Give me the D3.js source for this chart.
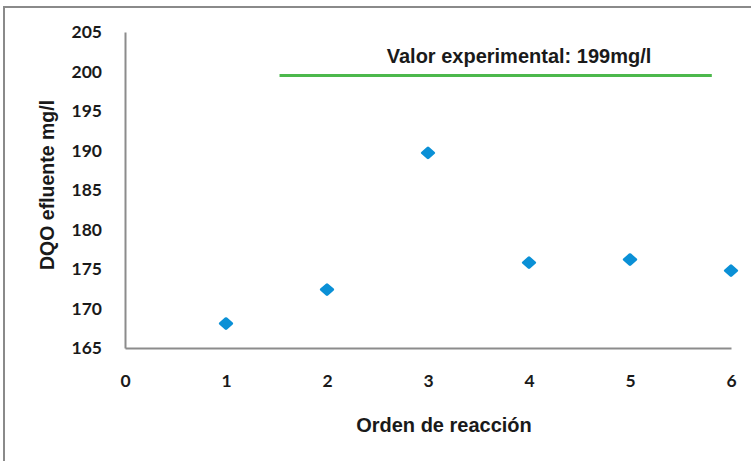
<!DOCTYPE html>
<head>
    <meta charset="utf-8">
    <script src="https://cdn.jsdelivr.net/npm/d3@7"></script>
    <style type="text/css">
        body { margin: 0; background: #fff; }
        .tick text { font-family: Lato, "Liberation Sans", sans-serif; font-weight: bold; font-size: 17.5px; fill: #1a1a1a; }
        .axis path { stroke: #8c8c8c; stroke-width: 2px; }
        .label { font-family: "Liberation Sans", Arial, sans-serif; font-weight: bold; fill: #1a1a1a; }
    </style>
</head>
<body>
    <div id="chart"></div>
</body>
</html>

<script type="text/javascript">
    var orden = [1, 2, 3, 4, 5, 6];
    var dqo = [168.1, 172.4, 189.7, 175.8, 176.2, 174.8];
    var xTicks = [0, 1, 2, 3, 4, 5, 6];
    var yTicks = [165, 170, 175, 180, 185, 190, 195, 200, 205];
    var experimental = 199.5;
    var expRange = [1.53, 5.81];
    var expLabel = "Valor experimental: 199mg/l";

    var width = 751, height = 461;

    var svg = d3.select('#chart').append("svg")
        .attr("width", width)
        .attr("height", height);

    // frame (only left and top edges show)
    svg.append("rect")
        .attr("x", 4).attr("y", 7)
        .attr("width", width).attr("height", height)
        .attr("fill", "none")
        .attr("stroke", "#8a8a8a")
        .attr("stroke-width", 2);

    var x = d3.scaleLinear().domain([0, 6]).range([125, 731]);
    var y = d3.scaleLinear().domain([165, 205]).range([348, 32]);

    svg.append("g")
        .attr("class", "axis")
        .attr("transform", "translate(0," + y(165) + ")")
        .call(d3.axisBottom(x).tickValues(xTicks).tickSize(0).tickPadding(27).tickFormat(d3.format("d")))
        .call(function(g) { g.select(".domain").attr("stroke", "#8c8c8c"); });

    svg.append("g")
        .attr("class", "axis")
        .attr("transform", "translate(" + x(0) + ",0)")
        .call(d3.axisLeft(y).tickValues(yTicks).tickSize(0).tickPadding(23).tickFormat(d3.format("d")))
        .call(function(g) { g.select(".domain").attr("stroke", "#8c8c8c"); });

    // experimental value line
    svg.append("line")
        .attr("x1", x(expRange[0])).attr("x2", x(expRange[1]))
        .attr("y1", y(experimental)).attr("y2", y(experimental))
        .attr("stroke", "#4cb84c")
        .attr("stroke-width", 3);

    svg.append("text")
        .attr("class", "label")
        .attr("x", 519).attr("y", y(experimental) - 12)
        .attr("text-anchor", "middle")
        .style("font-size", "20px")
        .text(expLabel);

    // points
    svg.append("g").selectAll("rect")
        .data(orden)
        .enter().append("rect")
        .attr("x", -5.5).attr("y", -5.5)
        .attr("width", 11).attr("height", 11)
        .attr("rx", 1.5)
        .attr("fill", "#0a90d6")
        .attr("transform", function(d, i) { return "translate(" + x(d) + "," + y(dqo[i]) + ") scale(1,0.88) rotate(45)"; });

    svg.append("text")
        .attr("class", "label")
        .attr("x", 444).attr("y", 432)
        .attr("text-anchor", "middle")
        .style("font-size", "20px")
        .text("Orden de reacción");

    svg.append("text")
        .attr("class", "label")
        .attr("transform", "translate(54,185) rotate(-90)")
        .attr("text-anchor", "middle")
        .style("font-size", "19.5px")
        .text("DQO efluente mg/l");
</script>
